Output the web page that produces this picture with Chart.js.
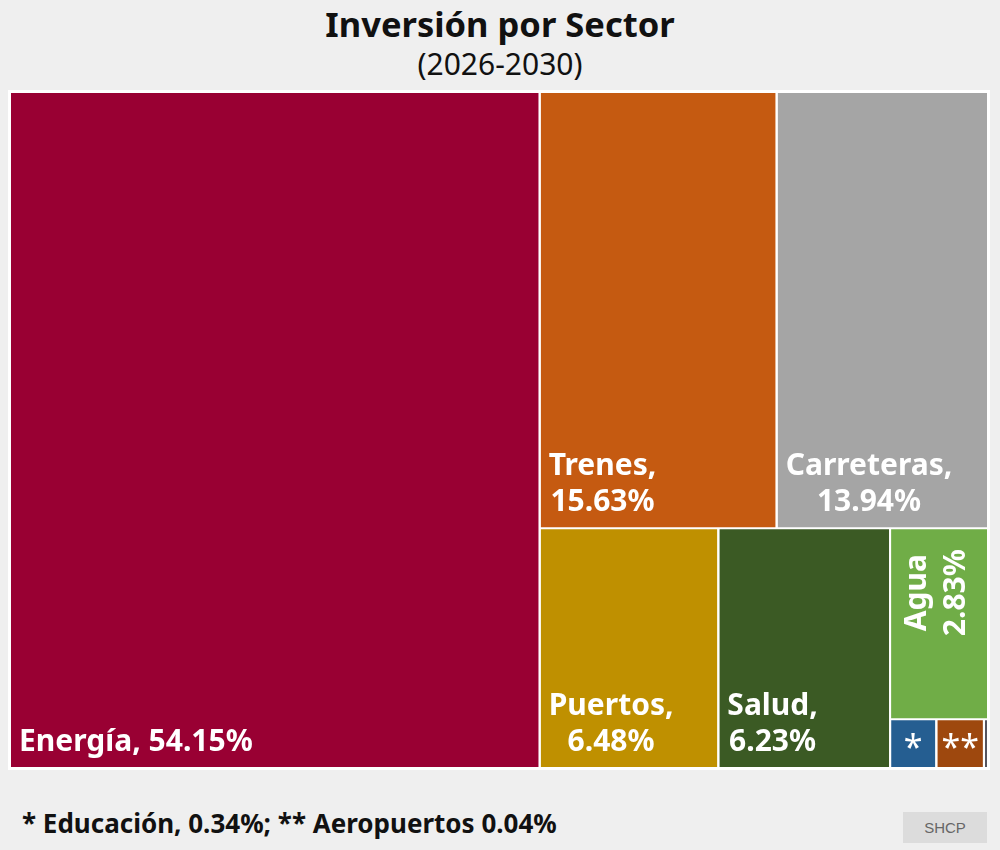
<!DOCTYPE html>
<html>
<head>
<meta charset="utf-8">
<script src="https://cdn.jsdelivr.net/npm/chart.js@4.4.1/dist/chart.umd.min.js"></script>
<style>
body { margin: 0; width: 1000px; height: 850px; background: #efefef; font-family: "Noto Sans", sans-serif; position: relative; overflow: hidden; }
#titulo { position: absolute; top: 2px; left: 0; width: 1000px; text-align: center; font-weight: bold; font-size: 34.5px; line-height: 44px; color: #111; }
#sub { position: absolute; top: 44px; left: 0; width: 1000px; text-align: center; font-size: 30px; line-height: 40px; color: #111; }
#marco { position: absolute; left: 8px; top: 90px; width: 982px; height: 680px; background: #fff; }
#nota { position: absolute; left: 22px; top: 804px; font-weight: bold; font-size: 26px; line-height: 38px; color: #111; }
#fuente { position: absolute; left: 903px; top: 812px; width: 84px; height: 31px; background: #dcdcdc; color: #666; font: 15px "Liberation Sans", Arial, sans-serif; text-align: center; line-height: 31px; }
</style>
</head>
<body>
<div id="titulo">Inversión por Sector</div>
<div id="sub">(2026-2030)</div>
<div id="marco"><canvas id="grafica"></canvas></div>
<div id="nota">* Educación, 0.34%; ** Aeropuertos 0.04%</div>
<div id="fuente">SHCP</div>
<script>
var sectores = ['Energía', 'Trenes', 'Carreteras', 'Puertos', 'Salud', 'Agua', 'Educación', 'Aeropuertos', 'Otros'];
var porcentajes = [54.15, 15.63, 13.94, 6.48, 6.23, 2.83, 0.34, 0.04, null];
// tamaño de cada caja tal como se ve en la imagen
var areas = [54.15, 15.63, 13.94, 6.48, 6.23, 2.83, 0.34, 0.35, 0.03];
var etiquetas = [['Energía, 54.15%'], ['Trenes,', '15.63%'], ['Carreteras,', '13.94%'], ['Puertos,', '6.48%'],
    ['Salud,', '6.23%'], ['Agua', '2.83%'], ['*'], ['**'], []];
var colores = ['#990033', '#c55a11', '#a5a5a5', '#bf9000', '#3b5a24', '#70ad47', '#255e91', '#9e480e', '#55555f'];

// h = reparto horizontal, v = vertical
var arbol = ['h', 0, ['v', ['h', 1, 2], ['h', 3, 4, ['v', 5, ['h', 6, 7, 8]]]]];

function suma(n) {
    if (typeof n === 'number') return areas[n];
    return n.slice(1).reduce((s, c) => s + suma(c), 0);
}

function dividir(n, x0, y0, x1, y1, cajas) {
    if (typeof n === 'number') { cajas[n] = {x0: x0, y0: y0, x1: x1, y1: y1}; return; }
    var total = suma(n);
    var p = n[0] === 'h' ? x0 : y0;
    n.slice(1).forEach(c => {
        var f = suma(c) / total;
        if (n[0] === 'h') {
            var q = p + (x1 - x0) * f;
            dividir(c, p, y0, q, y1, cajas);
        } else {
            var q = p + (y1 - y0) * f;
            dividir(c, x0, p, x1, q, cajas);
        }
        p = q;
    });
}

var cajas = [];
dividir(arbol, 0, 0, 1, 1, cajas);

var gx = 1 / 978, gy = 1 / 676;
var datasets = cajas.map((r, i) => ({
    label: sectores[i],
    data: [{x: r.x0 + gx, y: r.y0 + gy}, {x: r.x1 - gx, y: r.y0 + gy}],
    fill: {value: r.y1 - gy},
    backgroundColor: colores[i],
    borderWidth: 0,
    pointRadius: 0,
    showLine: true,
}));

var textos = {
    id: 'textos',
    afterDatasetsDraw(chart) {
        var ctx = chart.ctx, sx = chart.scales.x, sy = chart.scales.y;
        ctx.save();
        ctx.fillStyle = '#ffffff';
        ctx.font = 'bold 30px "Noto Sans"';
        ctx.textBaseline = 'middle';
        cajas.forEach((r, i) => {
            var lineas = etiquetas[i];
            if (!lineas.length) return;
            var left = sx.getPixelForValue(r.x0), right = sx.getPixelForValue(r.x1);
            var top = sy.getPixelForValue(r.y0), bottom = sy.getPixelForValue(r.y1);
            var anchoMax = Math.max(...lineas.map(l => ctx.measureText(l).width));
            ctx.textAlign = 'center';
            if (bottom - top < 60) {
                ctx.save();
                ctx.font = '34px "Noto Sans"';
                ctx.fillText(lineas[0], (left + right) / 2, (top + bottom) / 2 + 6);
                ctx.restore();
            } else if (right - left < 110) {
                ctx.save();
                ctx.translate((left + right) / 2 - 2, top + 21 + anchoMax / 2);
                ctx.rotate(-Math.PI / 2);
                lineas.forEach((l, k) => ctx.fillText(l, 0, (k - (lineas.length - 1) / 2) * 39));
                ctx.restore();
            } else {
                var cx = left + 9 + anchoMax / 2;
                lineas.forEach((l, k) => ctx.fillText(l, cx, bottom - 26 - (lineas.length - 1 - k) * 36));
            }
        });
        ctx.restore();
    }
};

new Chart(document.getElementById('grafica'), {
    type: 'scatter',
    data: {datasets: datasets},
    options: {
        responsive: true,
        maintainAspectRatio: false,
        animation: false,
        layout: {padding: 2},
        scales: {
            x: {type: 'linear', min: 0, max: 1, display: false},
            y: {type: 'linear', min: 0, max: 1, reverse: true, display: false},
        },
        plugins: {
            legend: {display: false},
            tooltip: {enabled: false},
        },
    },
    plugins: [textos],
});
</script>
</body>
</html>
